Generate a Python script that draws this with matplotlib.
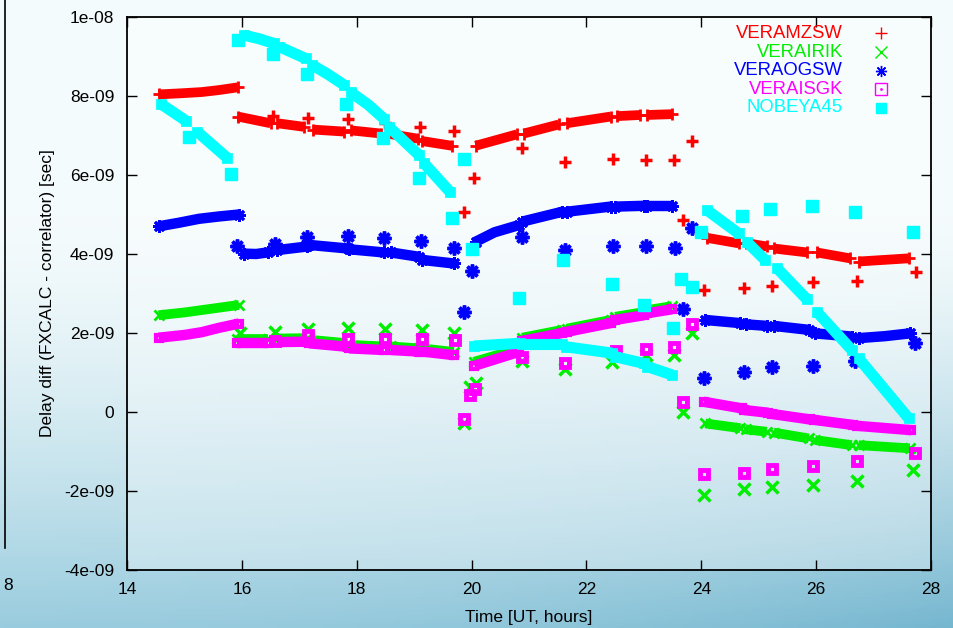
import matplotlib
matplotlib.use("Agg")
import matplotlib.pyplot as plt
import matplotlib.ticker as mticker
from matplotlib.lines import Line2D
import numpy as np

plt.rcParams['font.family'] = ['Liberation Sans', 'DejaVu Sans']

# ------------------------------------------------------------
# delay differences in ns, per station
# bands = continuous scans (t [h], delay [ns]); singles = short scans
# ------------------------------------------------------------

mzsw_bands = [
    [(14.55, 8.04), (14.95, 8.07), (15.3, 8.10), (15.6, 8.15), (15.93, 8.22)],
    [(15.93, 7.48), (16.2, 7.40), (16.50, 7.31)],
    [(16.62, 7.31), (17.08, 7.22)],
    [(17.24, 7.15), (17.78, 7.10)],
    [(17.90, 7.13), (18.42, 7.05)],
    [(18.53, 7.05), (19.06, 6.92)],
    [(19.14, 6.86), (19.66, 6.74)],
    [(20.07, 6.74), (20.79, 7.03)],
    [(20.91, 7.05), (21.52, 7.28)],
    [(21.66, 7.31), (22.42, 7.48)],
    [(22.53, 7.49), (22.94, 7.52)],
    [(23.06, 7.52), (23.49, 7.54)],
    [(24.10, 4.41), (24.65, 4.27)],
    [(24.77, 4.28), (25.14, 4.19)],
    [(25.26, 4.14), (25.84, 4.04)],
    [(26.01, 4.04), (26.59, 3.89)],
    [(26.74, 3.81), (27.61, 3.89)],
]
mzsw_t = [16.55, 17.15, 17.84, 18.50, 19.10, 19.69, 19.86, 20.04, 20.88, 21.63,
          22.47, 23.03, 23.52, 23.68, 23.84, 24.04, 24.74, 25.23, 25.95, 26.71, 27.74]
mzsw_v = [7.49, 7.45, 7.42, 7.32, 7.22, 7.11, 5.06, 5.92, 6.69, 6.34,
          6.41, 6.38, 6.38, 4.86, 6.87, 3.09, 3.15, 3.20, 3.30, 3.32, 3.55]

irik_bands = [
    [(14.55, 2.45), (15.0, 2.52), (15.4, 2.60), (15.95, 2.71)],
    [(15.92, 1.84), (16.45, 1.84)],
    [(16.62, 1.86), (17.14, 1.87)],
    [(17.17, 1.83), (17.84, 1.74)],
    [(17.87, 1.70), (18.47, 1.66)],
    [(18.59, 1.66), (19.08, 1.61)],
    [(19.14, 1.61), (19.69, 1.52)],
    [(20.04, 1.27), (20.82, 1.60)],
    [(20.88, 1.88), (21.58, 2.08)],
    [(21.66, 2.11), (22.42, 2.33)],
    [(22.50, 2.41), (23.0, 2.53)],
    [(23.06, 2.58), (23.49, 2.68)],
    [(24.07, -0.29), (24.68, -0.41)],
    [(24.77, -0.44), (25.14, -0.50)],
    [(25.26, -0.52), (25.87, -0.67)],
    [(25.98, -0.71), (26.62, -0.84)],
    [(26.74, -0.84), (27.63, -0.92)],
]
irik_t = [15.97, 16.57, 17.15, 17.84, 18.49, 19.13, 19.69, 19.86, 19.98, 20.07, 20.87,
          21.63, 22.45, 23.04, 23.52, 23.68, 23.84, 24.04, 24.74, 25.23, 25.95, 26.71, 27.69]
irik_v = [1.99, 2.03, 2.09, 2.12, 2.09, 2.08, 1.99, -0.28, 0.63, 0.73, 1.30,
          1.09, 1.27, 1.44, 1.44, 0.01, 1.99, -2.10, -1.96, -1.89, -1.85, -1.74, -1.47]

ogsw_bands = [
    [(14.55, 4.70), (14.9, 4.79), (15.25, 4.89), (15.6, 4.95), (15.95, 5.00)],
    [(16.03, 4.01), (16.25, 4.00), (16.45, 4.04)],
    [(16.62, 4.10), (17.14, 4.19)],
    [(17.17, 4.23), (17.84, 4.14)],
    [(17.87, 4.12), (18.47, 4.04)],
    [(18.59, 4.04), (19.08, 3.93)],
    [(19.14, 3.85), (19.69, 3.76)],
    [(20.07, 4.31), (20.4, 4.55), (20.82, 4.73)],
    [(20.88, 4.82), (21.58, 5.07)],
    [(21.66, 5.07), (22.42, 5.20)],
    [(22.50, 5.20), (23.0, 5.22)],
    [(23.06, 5.22), (23.49, 5.22)],
    [(24.07, 2.33), (24.68, 2.25)],
    [(24.77, 2.22), (25.14, 2.18)],
    [(25.26, 2.18), (25.87, 2.08)],
    [(25.98, 1.99), (26.62, 1.91)],
    [(26.74, 1.87), (27.2, 1.92), (27.63, 1.99)],
]
ogsw_t = [15.92, 16.57, 17.14, 17.84, 18.47, 19.12, 19.69, 19.86, 20.01, 20.88, 21.63,
          22.46, 23.03, 23.55, 23.68, 23.84, 24.04, 24.74, 25.23, 25.95, 26.68, 27.72]
ogsw_v = [4.20, 4.25, 4.44, 4.46, 4.40, 4.33, 4.16, 2.54, 3.57, 4.44, 4.10,
          4.20, 4.20, 4.16, 2.61, 4.65, 0.85, 1.00, 1.13, 1.17, 1.30, 1.74]

isgk_bands = [
    [(14.55, 1.88), (15.0, 1.95), (15.3, 2.02), (15.6, 2.13), (15.95, 2.24)],
    [(15.92, 1.74), (16.45, 1.74)],
    [(16.62, 1.77), (17.14, 1.78)],
    [(17.17, 1.74), (17.84, 1.65)],
    [(17.87, 1.61), (18.47, 1.57)],
    [(18.59, 1.57), (19.08, 1.53)],
    [(19.14, 1.53), (19.69, 1.44)],
    [(20.05, 1.17), (20.82, 1.52)],
    [(20.88, 1.80), (21.58, 2.00)],
    [(21.66, 2.03), (22.42, 2.25)],
    [(22.50, 2.33), (23.0, 2.45)],
    [(23.06, 2.50), (23.49, 2.60)],
    [(24.04, 0.26), (24.71, 0.09)],
    [(24.74, 0.05), (25.17, -0.02)],
    [(25.23, -0.05), (25.90, -0.19)],
    [(25.97, -0.20), (26.65, -0.33)],
    [(26.71, -0.35), (27.66, -0.46)],
]
isgk_t = [16.57, 17.15, 17.84, 18.49, 19.13, 19.72, 19.86, 19.98, 20.06, 20.87, 21.63,
          22.52, 23.04, 23.52, 23.68, 23.84, 24.04, 24.74, 25.23, 25.95, 26.71, 27.72]
isgk_v = [1.80, 1.95, 1.84, 1.84, 1.84, 1.82, -0.17, 0.43, 0.57, 1.40, 1.25,
          1.54, 1.59, 1.65, 0.26, 2.22, -1.58, -1.54, -1.44, -1.36, -1.24, -1.05]

nobeya_bands = [
    [(14.60, 7.79), (15.03, 7.37)],
    [(15.22, 7.10), (15.74, 6.44)],
    [(16.04, 9.54), (16.3, 9.45), (16.56, 9.33)],
    [(16.65, 9.25), (17.11, 8.95)],
    [(17.23, 8.78), (17.5, 8.55), (17.78, 8.28)],
    [(17.90, 8.09), (18.2, 7.78), (18.47, 7.43)],
    [(18.56, 7.22), (19.08, 6.51)],
    [(19.17, 6.30), (19.62, 5.58)],
    [(20.04, 1.67), (20.85, 1.74)],
    [(20.87, 1.72), (21.58, 1.72)],
    [(21.65, 1.65), (22.45, 1.49)],
    [(22.50, 1.40), (23.0, 1.23)],
    [(23.06, 1.15), (23.49, 0.94)],
    [(24.10, 5.11), (24.65, 4.52)],
    [(24.79, 4.31), (25.11, 3.85)],
    [(25.32, 3.64), (25.84, 2.85)],
    [(26.01, 2.54), (26.62, 1.57)],
    [(26.74, 1.36), (27.61, -0.16)],
]
nobeya_t = [15.08, 15.81, 15.94, 16.55, 17.13, 17.81, 18.46, 19.09, 19.66, 19.86, 20.00,
            20.83, 21.60, 22.45, 23.00, 23.51, 23.64, 23.84, 24.00, 24.71, 25.20,
            25.92, 26.68, 27.68]
nobeya_v = [6.95, 6.03, 9.42, 9.06, 8.56, 7.81, 6.93, 5.92, 4.90, 6.41, 4.12,
            2.89, 3.85, 3.23, 2.71, 2.13, 3.37, 3.16, 4.56, 4.97, 5.13,
            5.22, 5.06, 4.55]

stations = ["VERAMZSW", "VERAIRIK", "VERAOGSW", "VERAISGK", "NOBEYA45"]
colors = ["#ff0000", "#00ee00", "#0000ff", "#ff00ff", "#00ffff"]

NS = 1e-9
ASTER = (8, 2, 0)


def draw_station(ax, bands, st, sv, color, marker, lw, ms, mew, mfc):
    for seg in bands:
        t = [p[0] for p in seg]
        v = [p[1] * NS for p in seg]
        ax.plot(t, v, color=color, lw=lw, solid_capstyle="butt")
        ax.plot([t[0], t[-1]], [v[0], v[-1]], ls="none", marker=marker,
                ms=ms - 1, mew=mew - 0.5, color=color, mfc=mfc)
    ax.plot(st, np.array(sv) * NS, ls="none", marker=marker, ms=ms, mew=mew,
            color=color, mfc=mfc)


# ------------------------------------------------------------
#  FIGURE + BACKGROUND
# ------------------------------------------------------------

fig = plt.figure(figsize=(9.54, 6.28), dpi=100)

yy, xx = np.mgrid[0:1:200j, 0:1:300j]
top = np.array([0.96, 0.985, 0.99])
bottom = np.array([0.60, 0.80, 0.87])
w = np.clip((yy - 0.33) / 0.67, 0, 1) ** 1.5
grad = top * (1 - w[..., None]) + bottom * w[..., None]
grad = grad - 0.14 * (w * xx ** 2)[..., None] * np.array([1.0, 0.6, 0.4])
bg = fig.add_axes([0, 0, 1, 1], zorder=-10)
bg.imshow(np.clip(grad, 0, 1), aspect="auto", extent=[0, 1, 0, 1])
bg.axis("off")

# edge of the neighbouring panel
fig.add_artist(Line2D([0.005, 0.005], [0.127, 1.0], color="black", lw=1.2))
fig.text(0.003, 1 - 585 / 628, "8", fontsize=12.5, va="center", ha="left")

ax = fig.add_axes([0.1331, 0.0924, 0.8428, 0.8805])
ax.set_facecolor((1, 1, 1, 0.3))

draw_station(ax, mzsw_bands, mzsw_t, mzsw_v, colors[0], "+", 7, 9, 2.5, colors[0])
draw_station(ax, irik_bands, irik_t, irik_v, colors[1], "x", 7, 8, 2.5, colors[1])
draw_station(ax, ogsw_bands, ogsw_t, ogsw_v, colors[2], ASTER, 7.5, 10, 2.5, colors[2])
draw_station(ax, isgk_bands, isgk_t, isgk_v, colors[3], "s", 7.5, 6, 3.5, "none")
draw_station(ax, nobeya_bands, nobeya_t, nobeya_v, colors[4], "s", 8, 8, 1, colors[4])

ax.set_xlim(14, 28)
ax.set_ylim(-4e-9, 1e-8)
ax.xaxis.set_major_locator(mticker.MultipleLocator(2))
ax.yaxis.set_major_locator(mticker.MultipleLocator(2e-9))
ax.yaxis.set_major_formatter(mticker.FuncFormatter(lambda v, _: f"{v:g}" if abs(v) > 1e-12 else "0"))
ax.tick_params(direction="in", top=True, right=True, length=7, width=1,
               labelsize=12.5, pad=9)
for s in ax.spines.values():
    s.set_linewidth(1.3)

ax.set_xlabel("Time [UT, hours]", fontsize=12.5, labelpad=9)
ax.set_ylabel("Delay diff (FXCALC - correlator) [sec]", fontsize=12.5, labelpad=7)

# key, text right-aligned with the symbol to its right
key_y = [0.9705, 0.9362, 0.903, 0.8693, 0.836]
key_m = ["+", "x", ASTER, "s", "s"]
for name, c, y, m in zip(stations, colors, key_y, key_m):
    ax.text(0.8905, y, name, color=c, fontsize=13.3, ha="right", va="center",
            transform=ax.transAxes)
    filled = name == "NOBEYA45"
    ax.plot([0.9378], [y], transform=ax.transAxes, marker=m, ms=7 if filled else 8,
            mew=1, color=c, mfc=c if filled else "none", ls="none", clip_on=False)
    if name == "VERAISGK":
        ax.plot([0.9378], [y], transform=ax.transAxes, marker=".", ms=2,
                color=c, ls="none", clip_on=False)

fig.savefig("out.png", dpi=100)
